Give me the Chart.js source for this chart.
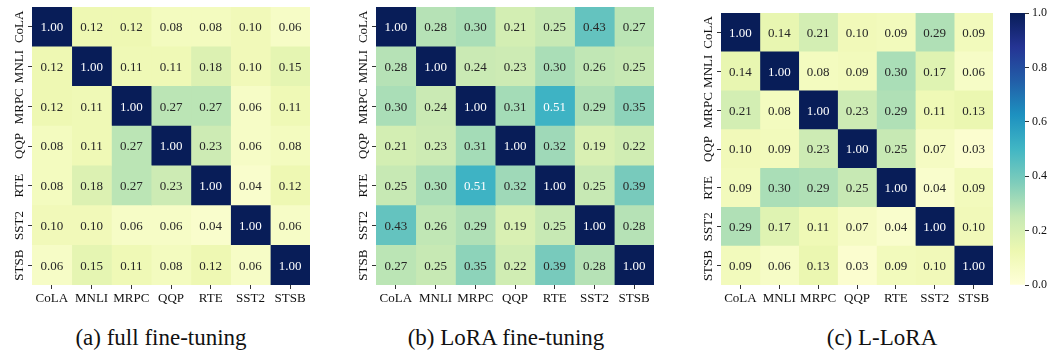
<!DOCTYPE html>
<html>
<head>
<meta charset="utf-8">
<script src="https://cdn.jsdelivr.net/npm/chart.js@4"></script>
<style>
  body { margin: 0; background: #fff; width: 1049px; height: 351px; position: relative; overflow: hidden; }
  canvas { position: absolute; top: 0; }
  .caption { position: absolute; top: 326px; font-family: "Liberation Serif", "Times New Roman", serif; font-size: 23px; line-height: 23px; color: #111; transform: translateX(-50%); white-space: nowrap; }
</style>
</head>
<body>
<canvas id="heatA" width="312" height="310" style="left:0px"></canvas>
<canvas id="heatB" width="312" height="310" style="left:344px"></canvas>
<canvas id="heatC" width="306" height="310" style="left:689px"></canvas>
<canvas id="cbar" width="49" height="310" style="left:1000px"></canvas>
<div class="caption" style="left:161px">(a) full fine-tuning</div>
<div class="caption" style="left:506px">(b) LoRA fine-tuning</div>
<div class="caption" style="left:882px">(c) L-LoRA</div>
<script>
const tasks = ["CoLA", "MNLI", "MRPC", "QQP", "RTE", "SST2", "STSB"];

const fullFT = [
  [1.00, 0.12, 0.12, 0.08, 0.08, 0.10, 0.06],
  [0.12, 1.00, 0.11, 0.11, 0.18, 0.10, 0.15],
  [0.12, 0.11, 1.00, 0.27, 0.27, 0.06, 0.11],
  [0.08, 0.11, 0.27, 1.00, 0.23, 0.06, 0.08],
  [0.08, 0.18, 0.27, 0.23, 1.00, 0.04, 0.12],
  [0.10, 0.10, 0.06, 0.06, 0.04, 1.00, 0.06],
  [0.06, 0.15, 0.11, 0.08, 0.12, 0.06, 1.00],
];
const loraFT = [
  [1.00, 0.28, 0.30, 0.21, 0.25, 0.43, 0.27],
  [0.28, 1.00, 0.24, 0.23, 0.30, 0.26, 0.25],
  [0.30, 0.24, 1.00, 0.31, 0.51, 0.29, 0.35],
  [0.21, 0.23, 0.31, 1.00, 0.32, 0.19, 0.22],
  [0.25, 0.30, 0.51, 0.32, 1.00, 0.25, 0.39],
  [0.43, 0.26, 0.29, 0.19, 0.25, 1.00, 0.28],
  [0.27, 0.25, 0.35, 0.22, 0.39, 0.28, 1.00],
];
const lLora = [
  [1.00, 0.14, 0.21, 0.10, 0.09, 0.29, 0.09],
  [0.14, 1.00, 0.08, 0.09, 0.30, 0.17, 0.06],
  [0.21, 0.08, 1.00, 0.23, 0.29, 0.11, 0.13],
  [0.10, 0.09, 0.23, 1.00, 0.25, 0.07, 0.03],
  [0.09, 0.30, 0.29, 0.25, 1.00, 0.04, 0.09],
  [0.29, 0.17, 0.11, 0.07, 0.04, 1.00, 0.10],
  [0.09, 0.06, 0.13, 0.03, 0.09, 0.10, 1.00],
];
const cbarTicks = [0, 0.2, 0.4, 0.6, 0.8, 1.0];

// YlGnBu colormap stops
const ylgnbu = ["#ffffd9", "#edf8b1", "#c7e9b4", "#7fcdbb", "#41b6c4", "#1d91c0", "#225ea8", "#253494", "#081d58"];

function hexToRgb(h) {
  return [parseInt(h.slice(1, 3), 16), parseInt(h.slice(3, 5), 16), parseInt(h.slice(5, 7), 16)];
}
function cmap(v) {
  v = Math.max(0, Math.min(1, v));
  const pos = v * (ylgnbu.length - 1);
  const i = Math.min(Math.floor(pos), ylgnbu.length - 2);
  const t = pos - i;
  const a = hexToRgb(ylgnbu[i]), b = hexToRgb(ylgnbu[i + 1]);
  return a.map((c, k) => Math.round(c + (b[k] - c) * t));
}
function luminance(rgb) {
  const lin = rgb.map((c) => {
    c = c / 255;
    return c <= 0.03928 ? c / 12.92 : Math.pow((c + 0.055) / 1.055, 2.4);
  });
  return 0.2126 * lin[0] + 0.7152 * lin[1] + 0.0722 * lin[2];
}

Chart.defaults.font.family = "'Liberation Serif', 'Times New Roman', serif";
Chart.defaults.font.size = 13;
Chart.defaults.color = "#111";

const cellText = {
  id: "cellText",
  afterDatasetsDraw(chart) {
    const ctx = chart.ctx;
    ctx.save();
    ctx.font = "13px 'Liberation Serif', 'Times New Roman', serif";
    ctx.textAlign = "center";
    ctx.textBaseline = "middle";
    chart.data.datasets.forEach((ds, j) => {
      chart.getDatasetMeta(j).data.forEach((bar, i) => {
        const v = ds.values[i];
        const p = bar.getCenterPoint();
        ctx.fillStyle = luminance(cmap(v)) > 0.408 ? "#262626" : "#ffffff";
        ctx.fillText(v.toFixed(2), p.x, p.y + 1);
      });
    });
    ctx.restore();
  },
};

function makeHeatmap(id, matrix, top) {
  const datasets = tasks.map((name, j) => ({
    label: name,
    data: tasks.map(() => 1),
    values: matrix.map((row) => row[j]),
    backgroundColor: (c) => {
      const rgb = cmap(c.dataset.values[c.dataIndex]);
      return `rgb(${rgb[0]},${rgb[1]},${rgb[2]})`;
    },
    borderWidth: 0,
    barPercentage: 1,
    categoryPercentage: 1,
  }));

  return new Chart(document.getElementById(id), {
    type: "bar",
    data: { labels: tasks, datasets },
    plugins: [cellText],
    options: {
      responsive: false,
      animation: false,
      indexAxis: "y",
      layout: { padding: { top: top, right: 2, left: 0, bottom: 0 } },
      plugins: { legend: { display: false }, tooltip: { enabled: false } },
      scales: {
        x: { display: false, stacked: true, min: 0, max: tasks.length },
        xc: {
          type: "category",
          position: "bottom",
          labels: tasks,
          offset: true,
          grid: { offset: false, drawOnChartArea: false, tickLength: 4, color: "#333" },
          border: { display: false },
          ticks: { padding: 2, maxRotation: 0, autoSkip: false },
          afterFit: (s) => { s.height = 25; },
        },
        y: {
          stacked: true,
          grid: { offset: false, drawOnChartArea: false, tickLength: 4, color: "#333" },
          border: { display: false },
          ticks: { minRotation: 90, maxRotation: 90, crossAlign: "center", padding: -10, autoSkip: false },
          afterFit: (s) => { s.width = 32; },
        },
      },
    },
  });
}

makeHeatmap("heatA", fullFT, 7);
makeHeatmap("heatB", loraFT, 7);
makeHeatmap("heatC", lLora, 13);

// colorbar
new Chart(document.getElementById("cbar"), {
  type: "bar",
  data: {
    labels: [""],
    datasets: [{
      data: [[0, 1]],
      borderWidth: 0,
      barPercentage: 1,
      categoryPercentage: 1,
      backgroundColor: (c) => {
        const area = c.chart.chartArea;
        if (!area) return ylgnbu[0];
        const g = c.chart.ctx.createLinearGradient(0, area.bottom, 0, area.top);
        ylgnbu.forEach((col, k) => g.addColorStop(k / (ylgnbu.length - 1), col));
        return g;
      },
    }],
  },
  options: {
    responsive: false,
    animation: false,
    layout: { padding: { top: 13, bottom: 25, left: 10, right: 0 } },
    plugins: { legend: { display: false }, tooltip: { enabled: false } },
    scales: {
      x: { display: false },
      y: {
        position: "right",
        min: 0,
        max: 1,
        afterBuildTicks: (s) => { s.ticks = cbarTicks.map((v) => ({ value: v })); },
        ticks: { callback: (v) => Number(v).toFixed(1), padding: 3, font: { size: 12 } },
        grid: { drawOnChartArea: false, tickLength: 4, color: "#333" },
        border: { display: false },
        afterFit: (s) => { s.width = 24; },
      },
    },
  },
});
</script>
</body>
</html>
